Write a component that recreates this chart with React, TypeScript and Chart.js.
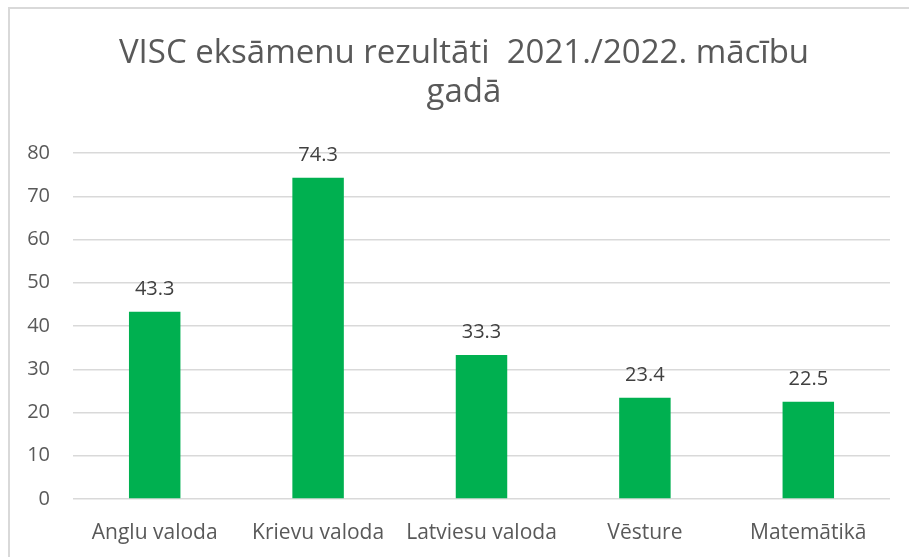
import React, { useEffect, useRef } from "react";
import { Chart, registerables } from "chart.js";

Chart.register(...registerables);

const titleLines = ["VISC eksāmenu rezultāti  2021./2022. mācību", "gadā"];
const categories = ["Anglu valoda", "Krievu valoda", "Latviesu valoda", "Vēsture", "Matemātikā"];
const values = [43.3, 74.3, 33.3, 23.4, 22.5];
const yMin = 0;
const yMax = 80;
const yStep = 10;

const FONT = "'Open Sans', Lato, sans-serif";

const dataLabelPlugin = {
  id: "dataLabels",
  afterDatasetsDraw(chart: any) {
    const ctx = chart.ctx;
    const meta = chart.getDatasetMeta(0);
    ctx.save();
    ctx.font = `20px ${FONT}`;
    ctx.fillStyle = "#404040";
    ctx.textAlign = "center";
    ctx.textBaseline = "alphabetic";
    meta.data.forEach((el: any, i: number) => {
      ctx.fillText(String(values[i]), el.x, el.y - 17);
    });
    ctx.restore();
  },
};

const titlePlugin = {
  id: "excelTitle",
  afterDraw(chart: any) {
    const ctx = chart.ctx;
    ctx.save();
    ctx.font = `33px ${FONT}`;
    ctx.fillStyle = "#595959";
    ctx.textAlign = "center";
    ctx.textBaseline = "alphabetic";
    const cx = 464;
    const baselines = [63, 102];
    titleLines.forEach((line, i) => ctx.fillText(line, cx, baselines[i]));
    ctx.restore();
  },
};

export default function App() {
  const ref = useRef<HTMLCanvasElement | null>(null);
  useEffect(() => {
    if (!ref.current) return;
    const chart = new Chart(ref.current, {
      type: "bar",
      data: {
        labels: categories,
        datasets: [
          {
            data: values,
            backgroundColor: "#00B050",
            borderWidth: 0,
            barPercentage: 0.315,
            categoryPercentage: 1,
          },
        ],
      },
      options: {
        animation: false,
        responsive: false,
        maintainAspectRatio: false,
        layout: { padding: { left: 0, right: 19, top: 153, bottom: 4 } },
        plugins: {
          legend: { display: false },
          tooltip: { enabled: false },
          title: { display: false },
        },
        scales: {
          x: {
            grid: { display: false, drawTicks: false },
            border: { display: false },
            ticks: {
              color: "#595959",
              font: { family: FONT, size: 21 },
              padding: 21,
              maxRotation: 0,
              autoSkip: false,
            },
            afterFit(scale: any) {
              scale.height = 54;
            },
          },
          y: {
            min: yMin,
            max: yMax,
            grid: { color: "#d9d9d9", lineWidth: 1.5, drawTicks: false },
            border: { display: false },
            ticks: {
              stepSize: yStep,
              color: "#595959",
              font: { family: FONT, size: 20 },
              padding: 23,
            },
            afterFit(scale: any) {
              scale.width = 73;
            },
          },
        },
      },
      plugins: [dataLabelPlugin, titlePlugin],
    });
    return () => chart.destroy();
  }, []);

  return (
    <div
      style={{
        position: "fixed",
        left: 0,
        top: 0,
        width: 909,
        height: 557,
        overflow: "hidden",
        background: "#ffffff",
      }}
    >
      <div
        style={{
          position: "absolute",
          left: 8,
          top: 7,
          width: 1200,
          height: 1200,
          border: "2px solid #d9d9d9",
          boxSizing: "border-box",
        }}
      />
      <canvas
        ref={ref}
        width={909}
        height={557}
        style={{ position: "absolute", left: 0, top: 0, width: 909, height: 557 }}
      />
    </div>
  );
}
